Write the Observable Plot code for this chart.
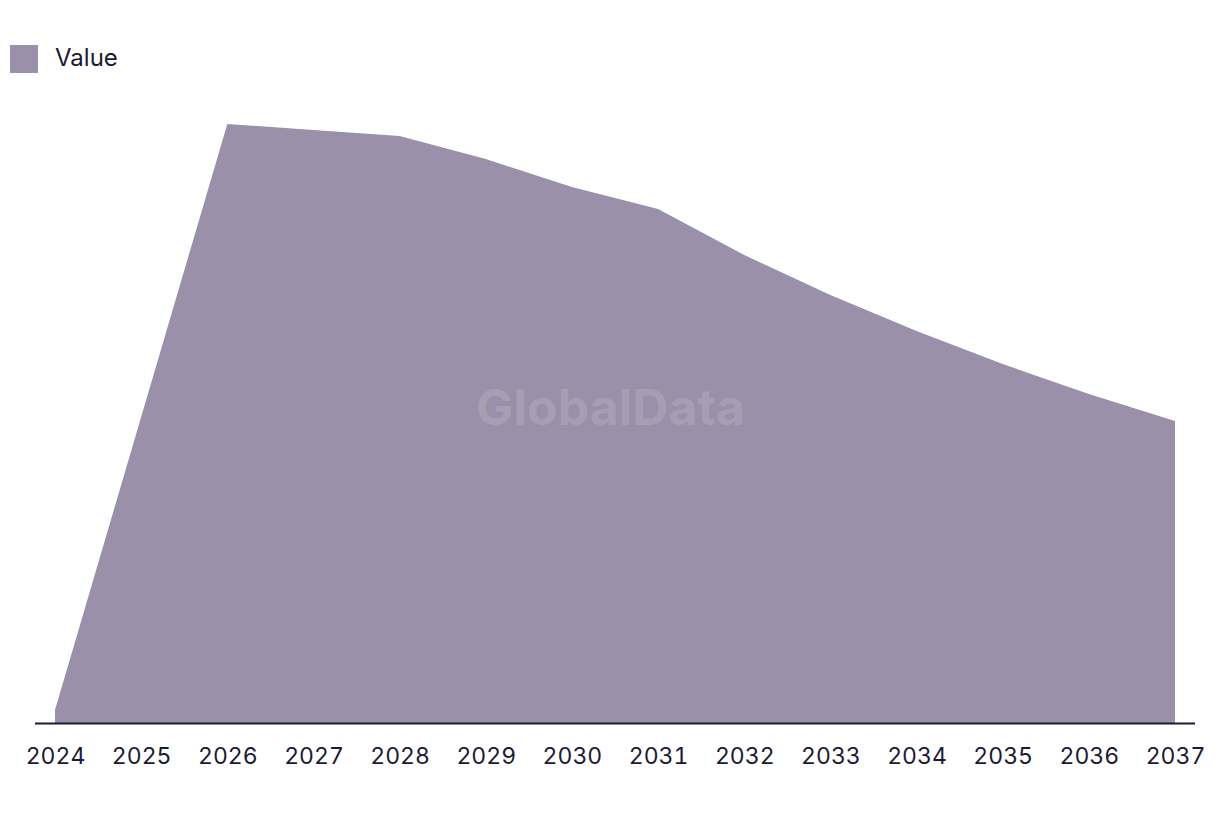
<!DOCTYPE html>
<html>
<head>
<meta charset="utf-8">
<script src="https://cdn.jsdelivr.net/npm/d3@7"></script>
<script src="https://cdn.jsdelivr.net/npm/@observablehq/plot@0.6"></script>
<style>
  html, body { margin: 0; padding: 0; background: #fff; }
  body { width: 1220px; height: 814px; overflow: hidden; font-family: Inter, "Noto Sans", sans-serif; color: #1c1a33; }
  .legend { position: relative; height: 90px; }
  .swatch { position: absolute; left: 10px; top: 45px; width: 28px; height: 28px; background: #9a90a9; }
  .label { position: absolute; left: 55px; top: 42px; font-size: 24px; line-height: 32px; }
</style>
</head>
<body>
<div class="legend"><div class="swatch"></div><div class="label">Value</div></div>
<div id="chart"></div>
<script>
const years = [2024, 2025, 2026, 2027, 2028, 2029, 2030, 2031, 2032, 2033, 2034, 2035, 2036, 2037];
const values = [13, 306, 599, 593, 587, 564, 536, 514, 468, 428, 392, 359, 329, 302];
const seriesName = "Value";
const areaColor = "#9a90a9";

const data = years.map((year, i) => ({year, value: values[i]}));

const chart = Plot.plot({
  width: 1220,
  height: 724,
  marginLeft: 35,
  marginRight: 25,
  marginTop: 34,
  marginBottom: 91,
  style: {fontFamily: "Inter, 'Noto Sans', sans-serif", fontSize: "23px", color: "#1c1a33", background: "#fff"},
  x: {domain: [2024, 2037], insetLeft: 20, insetRight: 20},
  y: {domain: [0, 599]},
  marks: [
    Plot.areaY(data, {x: "year", y: "value", fill: areaColor}),
    Plot.text(["GlobalData"], {frameAnchor: "middle", dx: -5, dy: -15, fill: "#ffffff", fillOpacity: 0.13, fontSize: 50, fontWeight: "bold"}),
    Plot.ruleY([0], {stroke: "#1c1a33", strokeWidth: 2}),
    Plot.axisX({ticks: years, tickFormat: d => String(d), tickSize: 0, tickPadding: 24, label: null, fill: "#1c1a33"}),
    Plot.axisY({ticks: [], label: null})
  ]
});
document.getElementById("chart").appendChild(chart);
</script>
</body>
</html>
